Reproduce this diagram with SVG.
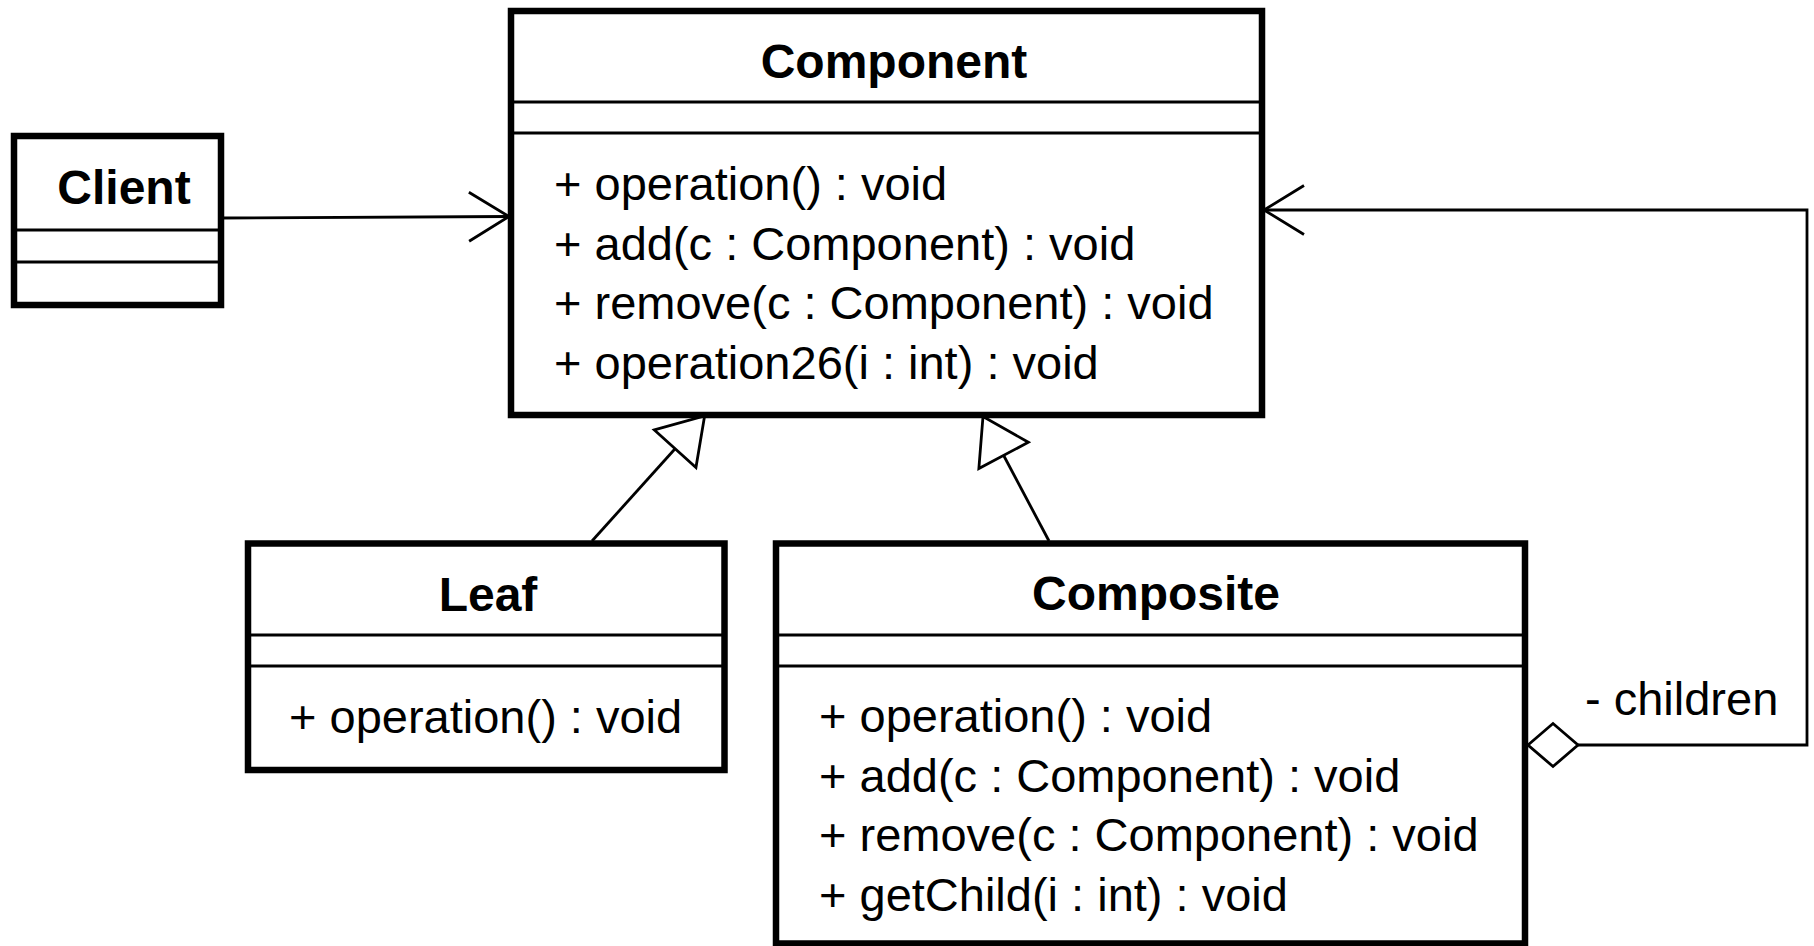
<svg xmlns="http://www.w3.org/2000/svg" width="1814" height="946" viewBox="0 0 1814 946">
  <style>
    .box { fill: #ffffff; stroke: #000000; stroke-width: 6.5; }
    .sep { stroke: #000000; stroke-width: 3; }
    .title { font-family: "Liberation Sans", Arial, sans-serif; font-size: 48px; font-weight: bold; fill: #000000; text-anchor: middle; }
    .member { font-family: "Liberation Sans", Arial, sans-serif; font-size: 47px; fill: #000000; }
    .edge { fill: none; stroke: #000000; stroke-width: 2.8; }
  </style>
  <defs>
    <!-- hollow triangle: generalization -->
    <marker id="generalization" viewBox="0 0 50 62" refX="47" refY="31" markerWidth="50" markerHeight="62" orient="auto" markerUnits="userSpaceOnUse">
      <path d="M3,3 L47,31 L3,59 Z" fill="#ffffff" stroke="#000000" stroke-width="2.8"/>
    </marker>
    <!-- open arrowhead: navigable association -->
    <marker id="open-arrow" viewBox="0 0 46 56" refX="43" refY="28" markerWidth="46" markerHeight="56" orient="auto" markerUnits="userSpaceOnUse">
      <path d="M3,3.5 L43,28 L3,52.5" fill="none" stroke="#000000" stroke-width="2.8"/>
    </marker>
    <!-- hollow diamond: aggregation -->
    <marker id="aggregation" viewBox="0 0 56 48" refX="2" refY="24" markerWidth="56" markerHeight="48" orient="auto" markerUnits="userSpaceOnUse">
      <path d="M2,24 L27,2.5 L52,24 L27,45.5 Z" fill="#ffffff" stroke="#000000" stroke-width="2.8"/>
    </marker>
  </defs>

  <rect width="1814" height="946" fill="#ffffff"/>

  <!-- connectors -->
  <g id="connectors">
    <line class="edge" x1="221" y1="218" x2="509" y2="216.5" marker-end="url(#open-arrow)"/>
    <line class="edge" x1="592" y1="541" x2="704.6" y2="416" marker-end="url(#generalization)"/>
    <line class="edge" x1="1049" y1="541" x2="983" y2="416.5" marker-end="url(#generalization)"/>
    <polyline class="edge" points="1528,745 1807,745 1807,210 1264,210" marker-start="url(#aggregation)" marker-end="url(#open-arrow)"/>
    <text class="member" x="1585" y="715">- children</text>
  </g>

  <!-- Client -->
  <g id="client">
    <rect class="box" x="14" y="136" width="207" height="169"/>
    <line class="sep" x1="14" y1="230" x2="221" y2="230"/>
    <line class="sep" x1="14" y1="262" x2="221" y2="262"/>
    <text class="title" x="124" y="204">Client</text>
  </g>

  <!-- Component -->
  <g id="component">
    <rect class="box" x="511" y="11" width="751" height="404"/>
    <line class="sep" x1="511" y1="102" x2="1262" y2="102"/>
    <line class="sep" x1="511" y1="133" x2="1262" y2="133"/>
    <text class="title" x="894" y="78">Component</text>
    <text class="member" x="554" y="200">+ operation() : void</text>
    <text class="member" x="554" y="259.5">+ add(c : Component) : void</text>
    <text class="member" x="554" y="319">+ remove(c : Component) : void</text>
    <text class="member" x="554" y="378.5">+ operation26(i : int) : void</text>
  </g>

  <!-- Leaf -->
  <g id="leaf">
    <rect class="box" x="248" y="543.5" width="476.5" height="226.5"/>
    <line class="sep" x1="248" y1="635" x2="724.5" y2="635"/>
    <line class="sep" x1="248" y1="666" x2="724.5" y2="666"/>
    <text class="title" x="488" y="611">Leaf</text>
    <text class="member" x="289" y="733">+ operation() : void</text>
  </g>

  <!-- Composite -->
  <g id="composite">
    <rect class="box" x="776" y="543.5" width="749" height="400"/>
    <line class="sep" x1="776" y1="635" x2="1525" y2="635"/>
    <line class="sep" x1="776" y1="666" x2="1525" y2="666"/>
    <text class="title" x="1156" y="610">Composite</text>
    <text class="member" x="819" y="732">+ operation() : void</text>
    <text class="member" x="819" y="791.5">+ add(c : Component) : void</text>
    <text class="member" x="819" y="851">+ remove(c : Component) : void</text>
    <text class="member" x="819" y="910.5">+ getChild(i : int) : void</text>
  </g>
</svg>
